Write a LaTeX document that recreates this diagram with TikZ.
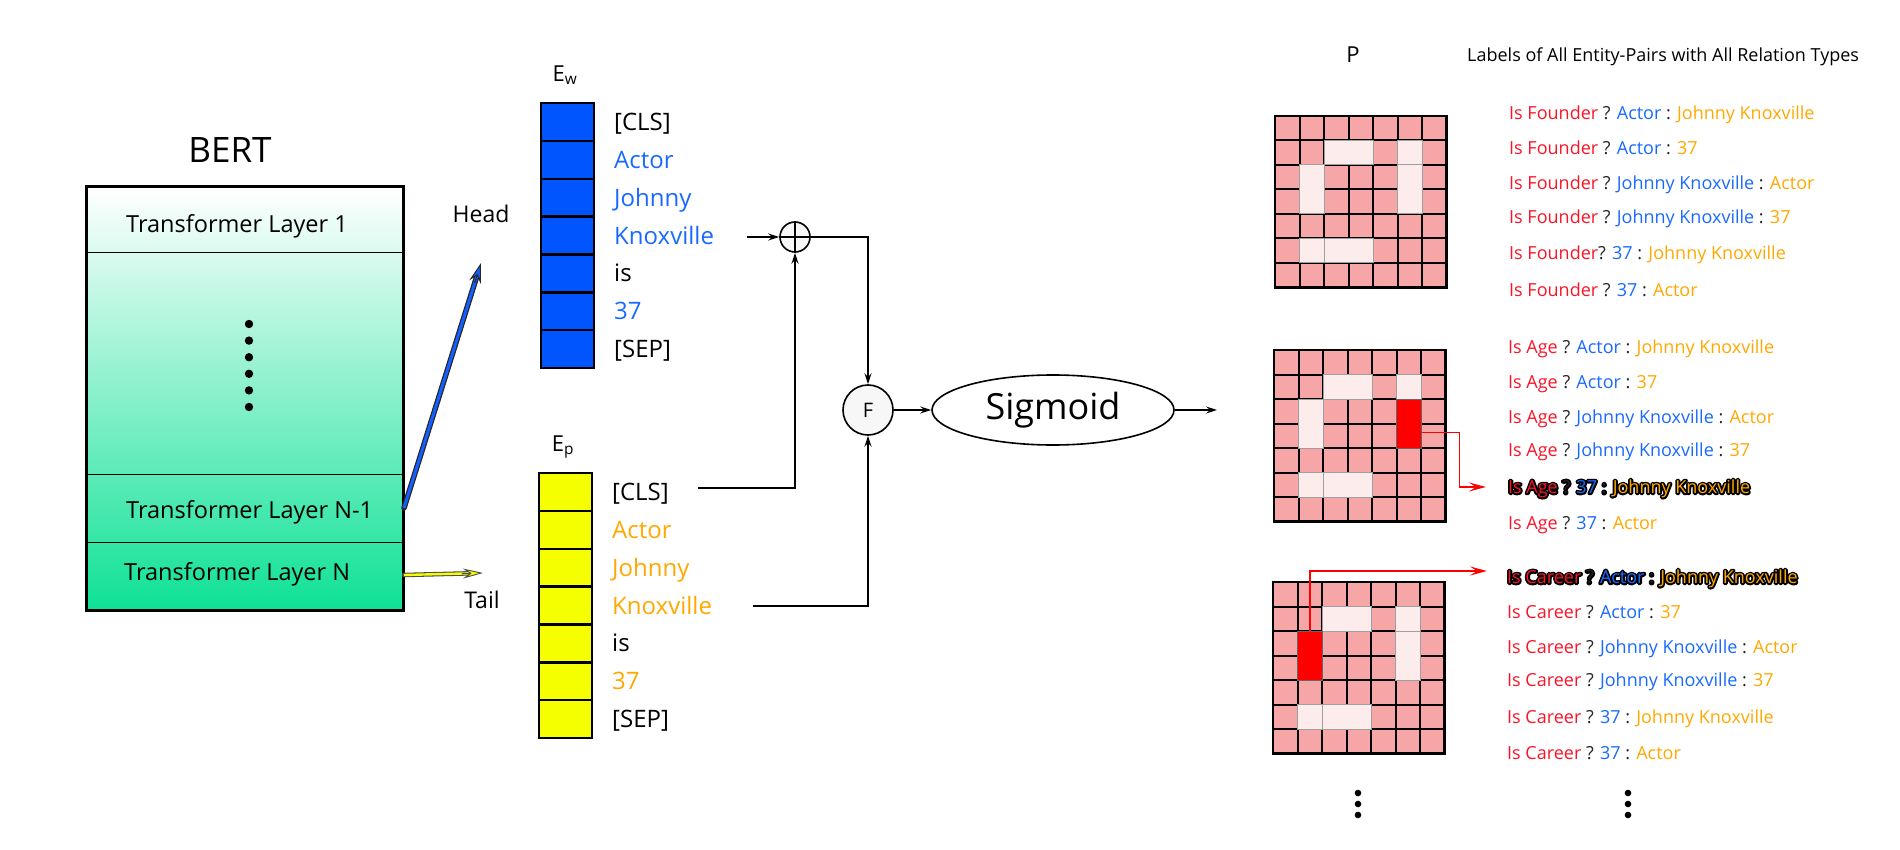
\documentclass[tikz,border=0pt]{standalone}
\usepackage{fontspec}
\setmainfont{Open Sans}
\usetikzlibrary{arrows.meta,shapes.geometric,calc}
\definecolor{tblue}{RGB}{25,105,255}
\definecolor{torange}{RGB}{255,168,0}
\definecolor{tred}{RGB}{250,20,40}
\definecolor{tdark}{RGB}{34,34,34}
\definecolor{colblue}{RGB}{0,85,255}
\definecolor{headblue}{RGB}{20,95,255}
\definecolor{colyellow}{RGB}{245,255,0}
\definecolor{cellpink}{RGB}{246,166,166}
\definecolor{celllight}{RGB}{253,236,236}
\definecolor{bertgreen}{RGB}{14,225,150}
\definecolor{bertmid}{RGB}{112,240,208}
\newcommand{\fsz}[1]{\fontsize{#1}{#1}\selectfont}
\newcommand{\Rd}[1]{\textcolor{tred}{#1}}
\newcommand{\Bl}[1]{\textcolor{tblue}{#1}}
\newcommand{\Or}[1]{\textcolor{torange}{#1}}
\newcommand{\Dk}[1]{\textcolor{tdark}{#1}}
% outlined text: a black stroked copy under the coloured copy
\newcommand{\outl}[1]{\rlap{\def\Rd##1{##1}\def\Bl##1{##1}\def\Or##1{##1}\def\Dk##1{##1}\color{black}\special{pdf:literal direct 1 j 3.6 w 1 Tr}#1\special{pdf:literal direct 0 Tr}}#1}
\newcommand{\lcell}[4]{\draw[fill=celllight, draw=gray!75, line width=1pt] (#1*24.5,#2*24.5) rectangle ++(#3*24.5,#4*24.5);}
\newcommand{\pgridbase}{%
  \fill[cellpink] (0,0) rectangle (171.5,171.5);
  \foreach \k in {1,...,6} {
    \draw[line width=2pt] (\k*24.5,0) -- (\k*24.5,171.5);
    \draw[line width=2pt] (0,\k*24.5) -- (171.5,\k*24.5);
  }
  \lcell{2}{1}{2}{1}\lcell{5}{1}{1}{1}\lcell{1}{5}{1}{1}\lcell{2}{5}{2}{1}}
\begin{document}
\begin{tikzpicture}[x=1pt, y=-1pt,
  wordw/.style={inner sep=0pt, anchor=west, font=\fsz{24}, text height=22.5pt, text depth=5.3pt},
  layertxt/.style={inner sep=0pt, anchor=west, font=\fsz{23.5}, text height=22pt, text depth=5.2pt},
  lrow/.style={inner sep=0pt, anchor=west, font=\fsz{18}, text height=16.8pt, text depth=4pt},
  arr/.style={line width=1.6pt, -{Stealth[length=11pt,width=7pt,inset=4pt]}},
  redarr/.style={red, line width=1.6pt, -{Stealth[length=17pt,width=9pt,inset=7pt]}},
  ewcell/.style={draw, line width=2.4pt, fill=colblue, minimum width=53pt, minimum height=37.86pt, inner sep=0pt},
  epcell/.style={draw, line width=2.4pt, fill=colyellow, minimum width=53pt, minimum height=37.86pt, inner sep=0pt},
  redcell/.style={fill=red, draw=black!60, line width=1pt, minimum width=24.5pt, minimum height=49pt, inner sep=0pt},
  gridframe/.style={draw, line width=2.6pt}
]
\useasboundingbox (0,0) rectangle (1900,850);

% ---------------- BERT ----------------
\node[font=\fsz{35}, inner sep=0pt] (berttitle) at (230,150) {BERT};
\node[draw, line width=2pt, top color=white, middle color=bertmid, bottom color=bertgreen, minimum width=316pt, minimum height=423pt, inner sep=0pt] (bert) at (245,398.5) {};
\draw[line width=1pt] (87,253) -- (403,253);
\draw[line width=1pt] (87,474) -- (403,474);
\draw[line width=1pt] (87,542) -- (403,542);
\draw[line width=2pt] (bert.north west) rectangle (bert.south east);
\node[layertxt] (l1) at (126,224) {Transformer Layer 1};
\node[layertxt] (ln1) at (126,510) {Transformer Layer N-1};
\node[layertxt] (ln) at (124,572) {Transformer Layer N};
\foreach \k in {0,...,5} \fill (249,{324+\k*16.6}) circle (4.2);

% head / tail arrows
\coordinate (hstart) at (404,508);
\coordinate (hend) at (481,263);
\draw[line width=5.5pt, black!85, shorten >=14pt, line cap=round] (hstart) -- (hend);
\draw[line width=3pt, headblue, shorten >=14pt] (hstart) -- (hend);
\draw[line width=1pt, black!85, -{Stealth[length=20pt,width=12pt,inset=7pt,fill=headblue]}] ($(hend)!21pt!(hstart)$) -- (hend);
\node[font=\fsz{23}, inner sep=0pt] (headlbl) at (481,214) {Head};

\coordinate (tstart) at (404,575);
\coordinate (tend) at (483,573);
\draw[line width=4.5pt, black!70, shorten >=14pt, line cap=round] (tstart) -- (tend);
\draw[line width=2.4pt, colyellow, shorten >=14pt] (tstart) -- (tend);
\draw[line width=0.9pt, black!70, -{Stealth[length=20pt,width=10pt,inset=7pt,fill=colyellow]}] ($(tend)!21pt!(tstart)$) -- (tend);
\node[font=\fsz{23}, inner sep=0pt] (taillbl) at (482,600) {Tail};

% ---------------- E_w column ----------------
\node[font=\fsz{22}, inner sep=0pt] (ewlbl) at (565,75) {E\textsubscript{w}};
\foreach \i/\t/\c in {1/{[CLS]}/black, 2/Actor/tblue, 3/Johnny/tblue, 4/Knoxville/tblue, 5/is/black, 6/37/tblue, 7/{[SEP]}/black} {
  \node[ewcell] (ew\i) at (567.5,{103+(\i-0.5)*37.86}) {};
  \node[wordw, text=\c] (w\i) at (614,{103+(\i-0.5)*37.86}) {\t};
}
% ---------------- E_p column ----------------
\node[font=\fsz{22}, inner sep=0pt] (eplbl) at (563,447) {E\textsubscript{p}};
\foreach \i/\t/\c in {1/{[CLS]}/black, 2/Actor/torange, 3/Johnny/torange, 4/Knoxville/torange, 5/is/black, 6/37/torange, 7/{[SEP]}/black} {
  \node[epcell] (ep\i) at (565.5,{473+(\i-0.5)*37.86}) {};
  \node[wordw, text=\c] (p\i) at (612,{473+(\i-0.5)*37.86}) {\t};
}

% ---------------- combination ----------------
\node[circle, draw, line width=1.6pt, minimum size=30pt, inner sep=0pt, fill=black!3] (plus) at (795,237) {};
\draw[line width=1.6pt] (plus.north) -- (plus.south) (plus.west) -- (plus.east);
\node[circle, draw, line width=1.6pt, minimum size=50pt, inner sep=0pt, fill=black!3, font=\fsz{20}] (F) at (868,410) {F};
\node[ellipse, draw, line width=1.6pt, minimum width=242pt, minimum height=70pt, inner sep=0pt, font=\fsz{36}] (sig) at (1053,410) {Sigmoid};

\coordinate (kwout) at (747,237);
\draw[arr] (kwout) -- (plus.west);
\draw[arr] (plus.east) -| (F.north);
\coordinate (clsout) at (698,488);
\draw[arr] (clsout) -| (plus.south);
\coordinate (kpout) at (753,606);
\draw[arr] (kpout) -| (F.south);
\draw[arr] (F.east) -- (sig.west);
\coordinate (sigout) at (1217,410);
\draw[arr] (sig.east) -- (sigout);

% ---------------- P grids ----------------
\node[font=\fsz{22}, inner sep=0pt] (plbl) at (1353,55) {P};
\node[font=\fsz{18}, inner sep=0pt, anchor=west] (hdr) at (1467,57) {Labels of All Entity-Pairs with All Relation Types};

\begin{scope}[shift={(1275,116)}]
  \pgridbase
  \lcell{1}{2}{1}{2}\lcell{5}{2}{1}{2}
  \draw[gridframe] (0,0) rectangle (171.5,171.5);
\end{scope}
\begin{scope}[shift={(1274,350)}]
  \pgridbase
  \lcell{1}{2}{1}{2}
  \node[redcell] (r2) at (5.5*24.5,3*24.5) {};
  \draw[gridframe] (0,0) rectangle (171.5,171.5);
\end{scope}
\begin{scope}[shift={(1273,582)}]
  \pgridbase
  \lcell{5}{2}{1}{2}
  \node[redcell] (r3) at (1.5*24.5,3*24.5) {};
  \draw[gridframe] (0,0) rectangle (171.5,171.5);
\end{scope}

% ---------------- label lists ----------------
\node[lrow] (fo1) at (1509,113) {\Rd{Is Founder} \Dk{?} \Bl{Actor} \Dk{:} \Or{Johnny Knoxville}};
\node[lrow] (fo2) at (1509,148) {\Rd{Is Founder} \Dk{?} \Bl{Actor} \Dk{:} \Or{37}};
\node[lrow] (fo3) at (1509,183) {\Rd{Is Founder} \Dk{?} \Bl{Johnny Knoxville} \Dk{:} \Or{Actor}};
\node[lrow] (fo4) at (1509,217) {\Rd{Is Founder} \Dk{?} \Bl{Johnny Knoxville} \Dk{:} \Or{37}};
\node[lrow] (fo5) at (1509,253) {\Rd{Is Founder}\Dk{?} \Bl{37} \Dk{:} \Or{Johnny Knoxville}};
\node[lrow] (fo6) at (1509,290) {\Rd{Is Founder} \Dk{?} \Bl{37} \Dk{:} \Or{Actor}};

\node[lrow] (ag1) at (1508,347) {\Rd{Is Age} \Dk{?} \Bl{Actor} \Dk{:} \Or{Johnny Knoxville}};
\node[lrow] (ag2) at (1508,382) {\Rd{Is Age} \Dk{?} \Bl{Actor} \Dk{:} \Or{37}};
\node[lrow] (ag3) at (1508,417) {\Rd{Is Age} \Dk{?} \Bl{Johnny Knoxville} \Dk{:} \Or{Actor}};
\node[lrow] (ag4) at (1508,450) {\Rd{Is Age} \Dk{?} \Bl{Johnny Knoxville} \Dk{:} \Or{37}};
\node[lrow] (ag5) at (1508,487) {\outl{\Rd{Is Age} \Dk{?} \Bl{37} \Dk{:} \Or{Johnny Knoxville}}};
\node[lrow] (ag6) at (1508,523) {\Rd{Is Age} \Dk{?} \Bl{37} \Dk{:} \Or{Actor}};

\node[lrow] (ca1) at (1507,577) {\outl{\Rd{Is Career} \Dk{?} \Bl{Actor} \Dk{:} \Or{Johnny Knoxville}}};
\node[lrow] (ca2) at (1507,612) {\Rd{Is Career} \Dk{?} \Bl{Actor} \Dk{:} \Or{37}};
\node[lrow] (ca3) at (1507,647) {\Rd{Is Career} \Dk{?} \Bl{Johnny Knoxville} \Dk{:} \Or{Actor}};
\node[lrow] (ca4) at (1507,680) {\Rd{Is Career} \Dk{?} \Bl{Johnny Knoxville} \Dk{:} \Or{37}};
\node[lrow] (ca5) at (1507,717) {\Rd{Is Career} \Dk{?} \Bl{37} \Dk{:} \Or{Johnny Knoxville}};
\node[lrow] (ca6) at (1507,753) {\Rd{Is Career} \Dk{?} \Bl{37} \Dk{:} \Or{Actor}};

% red arrows
\draw[redarr] ([yshift=-9pt]r2.east) -- ++(38,0) |- ([xshift=-22pt]ag5.west);
\draw[redarr] (r3.north) |- ([xshift=-20pt,yshift=6pt]ca1.west);

% bottom dots
\foreach \k in {0,1,2} {
  \fill (1358,{793+\k*11}) circle (3.3);
  \fill (1628,{793+\k*11}) circle (3.3);
}
\end{tikzpicture}
\end{document}
